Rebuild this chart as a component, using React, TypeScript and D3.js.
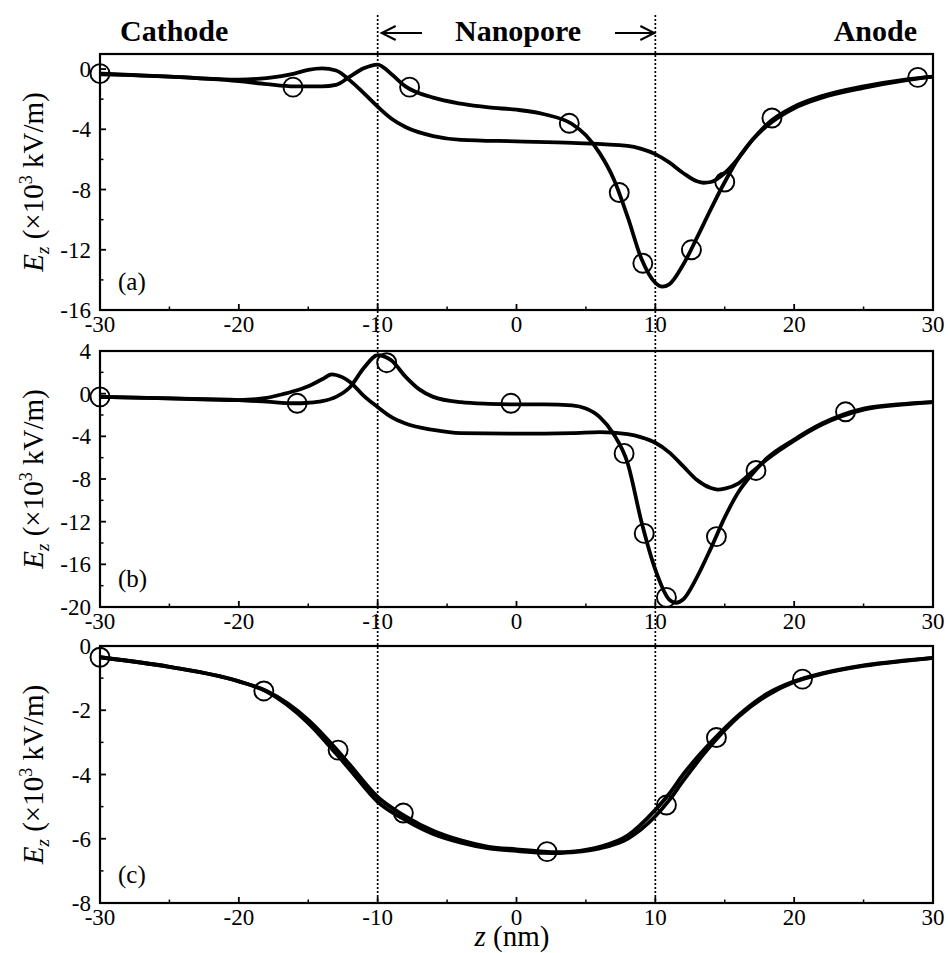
import React from 'react';
import * as d3 from 'd3';

// ---------- shared axis data ----------
const xTicks = [-30, -20, -10, 0, 10, 20, 30];
const xMinor = [-25, -15, -5, 5, 15, 25];
const poreEdges = [-10, 10];
const headers = ['Cathode', 'Nanopore', 'Anode'];

// ---------- panel (a) ----------
const aYTicks = [0, -4, -8, -12, -16];
const aYMinor = [-2, -6, -10, -14];
const aLine1Z = [-30, -25, -20, -18, -16, -15, -14, -13, -12, -11, -10, -9, -8, -6, -4, 0, 4, 8, 9, 10, 11, 12, 13, 13.5, 14, 15, 16, 17, 18, 20, 22, 25, 28, 30];
const aLine1V = [-0.3, -0.5, -0.7, -0.6, -0.3, -0.05, 0.05, -0.1, -0.75, -1.6, -2.5, -3.3, -3.85, -4.45, -4.7, -4.8, -4.9, -5.1, -5.3, -5.65, -6.2, -6.9, -7.45, -7.55, -7.5, -6.9, -5.9, -4.7, -3.8, -2.6, -1.9, -1.25, -0.75, -0.5];
const aLine2Z = [-30, -25, -20, -18, -16, -14, -13, -12, -11, -10, -9, -8, -6, -4, -2, 0, 2, 4, 5, 6, 7, 8, 9, 10, 10.5, 11, 12, 13, 14, 15, 16, 17, 18, 20, 22, 25, 28, 30];
const aLine2V = [-0.35, -0.5, -0.8, -1.0, -1.15, -1.15, -1.05, -0.5, 0.05, 0.3, -0.35, -1.15, -1.9, -2.3, -2.55, -2.7, -3.0, -3.65, -4.4, -5.6, -7.3, -9.8, -12.6, -14.2, -14.45, -14.3, -13.0, -11.2, -9.3, -7.5, -5.9, -4.7, -3.7, -2.5, -1.8, -1.15, -0.7, -0.5];
const aCircZ = [-30, -16.1, -7.7, 3.8, 7.4, 9.1, 12.6, 15.0, 18.4, 28.9];
const aCircV = [-0.3, -1.2, -1.2, -3.6, -8.2, -12.9, -12.0, -7.5, -3.25, -0.55];

// ---------- panel (b) ----------
const bYTicks = [4, 0, -4, -8, -12, -16, -20];
const bYMinor = [2, -2, -6, -10, -14, -18];
const bLine1Z = [-30, -25, -20, -18, -17, -16, -15, -14, -13.3, -13, -12, -11, -10, -9, -8, -6, -4, 0, 4, 6, 8, 9, 10, 11, 12, 13, 14, 14.5, 15, 16, 17, 18, 20, 22, 25, 28, 30];
const bLine1V = [-0.3, -0.45, -0.6, -0.4, -0.1, 0.25, 0.7, 1.35, 1.8, 1.75, 1.1, -0.2, -1.25, -2.2, -2.8, -3.4, -3.7, -3.75, -3.7, -3.6, -3.8, -4.1, -4.6, -5.5, -6.8, -8.1, -8.85, -9.0, -8.9, -8.4, -7.3, -6.2, -4.4, -2.9, -1.5, -1.0, -0.8];
const bLine2Z = [-30, -25, -20, -18, -16, -15, -14, -13, -12, -11, -10, -9, -8, -7, -6, -4, -2, 0, 2, 4, 5, 6, 7, 8, 9, 10, 11, 11.5, 12, 13, 14, 15, 16, 17, 18, 20, 22, 25, 28, 30];
const bLine2V = [-0.3, -0.45, -0.6, -0.75, -0.9, -0.85, -0.7, -0.3, 0.6, 2.4, 3.6, 3.1, 1.6, 0.4, -0.3, -0.8, -0.95, -1.0, -1.0, -1.1, -1.4, -2.2, -3.8, -6.5, -12.0, -16.5, -19.3, -19.6, -19.3, -17.2, -14.5, -11.6, -9.2, -7.5, -6.1, -4.3, -2.8, -1.4, -0.95, -0.8];
const bCircZ = [-30, -15.8, -9.35, -0.4, 7.75, 9.2, 10.8, 14.4, 17.25, 23.7];
const bCircV = [-0.3, -0.9, 2.9, -0.9, -5.6, -13.1, -19.1, -13.4, -7.2, -1.7];

// ---------- panel (c) ----------
const cYTicks = [0, -2, -4, -6, -8];
const cYMinor = [-1, -3, -5, -7];
const cLine1Z = [-30, -25, -20, -18, -15, -13, -12, -10, -8, -6, -4, -2, 0, 2, 3, 4, 6, 8, 10, 11, 12, 14, 16, 18, 20, 22, 25, 28, 30];
const cLine1V = [-0.35, -0.65, -1.1, -1.4, -2.3, -3.2, -3.7, -4.7, -5.3, -5.75, -6.05, -6.25, -6.33, -6.4, -6.42, -6.4, -6.25, -5.9, -5.1, -4.6, -4.0, -3.0, -2.15, -1.5, -1.1, -0.85, -0.6, -0.45, -0.37];
const cLine2Z = [-30, -25, -20, -18, -15, -13, -12, -10, -8, -6, -4, -2, 0, 2, 3, 4, 6, 8, 10, 11, 12, 14, 16, 18, 20, 22, 25, 28, 30];
const cLine2V = [-0.35, -0.65, -1.1, -1.42, -2.4, -3.35, -3.85, -4.85, -5.42, -5.85, -6.12, -6.3, -6.38, -6.44, -6.45, -6.42, -6.3, -6.0, -5.3, -4.8, -4.2, -3.1, -2.2, -1.55, -1.12, -0.87, -0.62, -0.46, -0.37];
const cCircZ = [-30, -18.2, -12.85, -8.15, 2.2, 10.8, 14.4, 20.6];
const cCircV = [-0.35, -1.4, -3.24, -5.2, -6.4, -4.95, -2.85, -1.03];

const FONT = '"Liberation Serif", "Times New Roman", Times, serif';
const X0 = 100;
const X1 = 933;
const x = d3.scaleLinear().domain([-30, 30]).range([X0, X1]);

const zip = (zs: number[], vs: number[]) => zs.map((z, i) => [z, vs[i]] as [number, number]);

type PanelProps = {
  top: number;
  bottom: number;
  domain: [number, number];
  yTicks: number[];
  yMinor: number[];
  lines: [number, number][][];
  circles: [number, number][];
  label: string;
};

function Panel({ top, bottom, domain, yTicks, yMinor, lines, circles, label }: PanelProps) {
  const y = d3.scaleLinear().domain(domain).range([bottom, top]);
  const gen = d3
    .line<[number, number]>()
    .x((d) => x(d[0]))
    .y((d) => y(d[1]))
    .curve(d3.curveMonotoneX);
  const mid = (top + bottom) / 2;
  return (
    <g>
      {lines.map((ln, i) => (
        <path key={i} d={gen(ln) || ''} fill="none" stroke="#000" strokeWidth={3.8} strokeLinejoin="round" />
      ))}
      {circles.map((c, i) => (
        <circle key={i} cx={x(c[0])} cy={y(c[1])} r={9.5} fill="none" stroke="#000" strokeWidth={1.9} />
      ))}
      <rect x={X0} y={top} width={X1 - X0} height={bottom - top} fill="none" stroke="#000" strokeWidth={2.2} />
      {xTicks.map((t) => (
        <g key={'xt' + t}>
          <line x1={x(t)} x2={x(t)} y1={bottom} y2={bottom - 6} stroke="#000" strokeWidth={1.8} />
          <text x={x(t)} y={bottom + 22} textAnchor="middle" fontSize={23} fontFamily={FONT}>
            {t}
          </text>
        </g>
      ))}
      {xMinor.map((t) => (
        <line key={'xm' + t} x1={x(t)} x2={x(t)} y1={bottom} y2={bottom - 3.5} stroke="#000" strokeWidth={1.5} />
      ))}
      {yTicks.map((t) => (
        <g key={'yt' + t}>
          <line x1={X0} x2={X0 + 6} y1={y(t)} y2={y(t)} stroke="#000" strokeWidth={1.8} />
          <text x={91} y={y(t)} dy="0.35em" textAnchor="end" fontSize={23} fontFamily={FONT}>
            {t}
          </text>
        </g>
      ))}
      {yMinor.map((t) => (
        <line key={'ym' + t} x1={X0} x2={X0 + 3.5} y1={y(t)} y2={y(t)} stroke="#000" strokeWidth={1.5} />
      ))}
      <text x={118} y={bottom - 20} fontSize={25} fontFamily={FONT}>
        {label}
      </text>
      <text transform={`translate(43, ${mid}) rotate(-90)`} textAnchor="middle" fontSize={29} fontFamily={FONT}>
        <tspan fontStyle="italic">E</tspan>
        <tspan fontStyle="italic" fontSize={19} dy={6}>z</tspan>
        <tspan dy={-6}> (×10</tspan>
        <tspan fontSize={18} dy={-11}>3</tspan>
        <tspan dy={11}> kV/m)</tspan>
      </text>
    </g>
  );
}

export default function App() {
  const tops = [54, 351, 646];
  const bottoms = [310, 607, 903];
  return (
    <svg width={950} height={953} style={{ position: 'absolute', left: 0, top: 0, background: '#fff' }}>
      <rect x={0} y={0} width={950} height={953} fill="#fff" />
      {poreEdges.map((z) => (
        <line key={z} x1={x(z)} x2={x(z)} y1={15} y2={bottoms[2]} stroke="#000" strokeWidth={1.7} strokeDasharray="2,2" />
      ))}
      <text x={120} y={41} fontSize={30} fontWeight="bold" fontFamily={FONT}>{headers[0]}</text>
      <text x={455} y={41} fontSize={30} fontWeight="bold" fontFamily={FONT}>{headers[1]}</text>
      <text x={917} y={41} textAnchor="end" fontSize={30} fontWeight="bold" fontFamily={FONT}>{headers[2]}</text>
      {/* arrows */}
      <g stroke="#000" strokeWidth={2} fill="none">
        <line x1={x(-10) + 4} x2={422} y1={33} y2={33} />
        <polyline points={`${x(-10) + 18},26 ${x(-10) + 4},33 ${x(-10) + 18},40`} />
        <line x1={615} x2={x(10) - 1} y1={33} y2={33} />
        <polyline points={`${x(10) - 15},26 ${x(10) - 1},33 ${x(10) - 15},40`} />
      </g>
      <Panel
        top={tops[0]}
        bottom={bottoms[0]}
        domain={[-16, 1]}
        yTicks={aYTicks}
        yMinor={aYMinor}
        lines={[zip(aLine1Z, aLine1V), zip(aLine2Z, aLine2V)]}
        circles={zip(aCircZ, aCircV)}
        label="(a)"
      />
      <Panel
        top={tops[1]}
        bottom={bottoms[1]}
        domain={[-20, 4]}
        yTicks={bYTicks}
        yMinor={bYMinor}
        lines={[zip(bLine1Z, bLine1V), zip(bLine2Z, bLine2V)]}
        circles={zip(bCircZ, bCircV)}
        label="(b)"
      />
      <Panel
        top={tops[2]}
        bottom={bottoms[2]}
        domain={[-8, 0]}
        yTicks={cYTicks}
        yMinor={cYMinor}
        lines={[zip(cLine1Z, cLine1V), zip(cLine2Z, cLine2V)]}
        circles={zip(cCircZ, cCircV)}
        label="(c)"
      />
      <text x={512} y={946} textAnchor="middle" fontSize={29} fontFamily={FONT}>
        <tspan fontStyle="italic">z</tspan>
        <tspan> (nm)</tspan>
      </text>
    </svg>
  );
}
